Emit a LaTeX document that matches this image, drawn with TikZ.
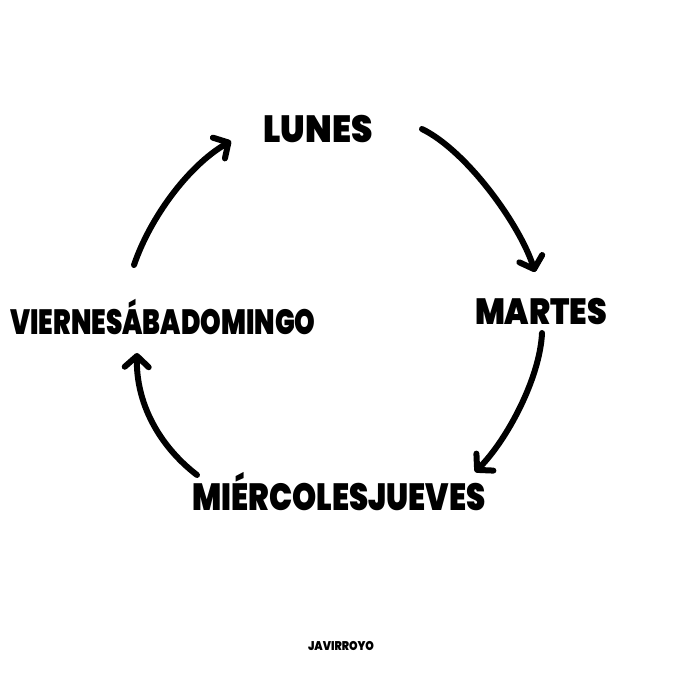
\documentclass[tikz,border=0pt]{standalone}
\usepackage{fontspec}
\usepackage{graphicx}
\setmainfont{Poppins}
\newfontfamily\heavy{Poppins Black}
\usetikzlibrary{arrows.meta}
\newcommand{\capfit}[3]{\resizebox{#1}{#2}{\heavy\raisebox{0pt}[\fontcharht\font`E][0pt]{#3}}}
\tikzset{
  lbl/.style={inner sep=0pt, outer sep=0pt, anchor=center},
  arr/.style={line width=3pt, line cap=round, line join=round,
    -{Straight Barb[length=5.5pt,width=12pt,line cap=round,line join=round]}}
}
\begin{document}
\begin{tikzpicture}[x=0.5pt,y=-0.5pt]
\useasboundingbox[fill=white] (0,0) rectangle (680,680);
\node[lbl] (lun) at (318,129) {\capfit{54.5pt}{13.5pt}{LUNES}};
\node[lbl] (mar) at (541,311) {\capfit{66pt}{13pt}{MARTES}};
\node[lbl] (mie) at (339,497) {\capfit{146.5pt}{13.5pt}{MIÉRCOLESJUEVES}};
\node[lbl] (vie) at (163,322) {\capfit{152.5pt}{12.5pt}{VIERNESÁBADOMINGO}};
\node[lbl] (sig) at (341,646) {\capfit{33pt}{4.5pt}{JAVIRROYO}};
\coordinate (a1s) at (134,265); \coordinate (a1e) at (231,141);
\coordinate (a2s) at (422,129); \coordinate (a2e) at (535,272);
\coordinate (a3s) at (542,333); \coordinate (a3e) at (475,472);
\coordinate (a4s) at (197,475); \coordinate (a4e) at (137,353);
\draw[arr] (a1s) .. controls (150,218) and (188,166) .. (a1e);
\draw[arr] (a2s) .. controls (467,151) and (520,225) .. (a2e);
\draw[arr] (a3s) .. controls (540,378) and (507,440) .. (a3e);
\draw[arr] (a4s) .. controls (158,445) and (136,402) .. (a4e);
\end{tikzpicture}
\end{document}
